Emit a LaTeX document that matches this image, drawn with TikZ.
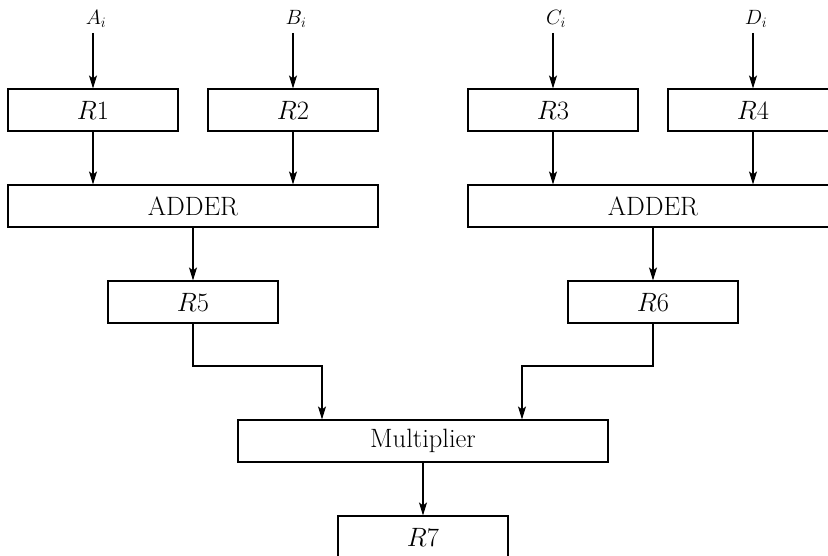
\RequirePackage{fix-cm}
\documentclass[tikz,border=0pt]{standalone}
\usetikzlibrary{arrows.meta,calc}
\begin{document}
\begin{tikzpicture}[x=1pt,y=-1pt,
  every node/.style={font=\fontsize{26.5}{30}\selectfont},
  reg/.style={draw,line width=1.1pt,minimum width=170pt,minimum height=42pt,inner sep=0pt},
  wide/.style={draw,line width=1.1pt,minimum width=370pt,minimum height=42pt,inner sep=0pt},
  lbl/.style={inner sep=0pt,scale=0.78},
  arr/.style={line width=1.1pt,-{Stealth[length=13pt,width=8pt,inset=3pt]}}]
\useasboundingbox (0,0) rectangle (828,556);
\clip (0,0) rectangle (828,556);
\fill[white] (0,0) rectangle (828,556);
% inputs
\node[lbl] (A) at (96,19) {$A_i$};
\node[lbl] (B) at (296,19) {$B_i$};
\node[lbl] (C) at (556,19) {$C_i$};
\node[lbl] (D) at (756,19) {$D_i$};
% registers
\node[reg] (R1) at (93,110) {$R1$};
\node[reg] (R2) at (293,110) {$R2$};
\node[reg] (R3) at (553,110) {$R3$};
\node[reg] (R4) at (753,110) {$R4$};
\node[wide] (AL) at (193,206) {ADDER};
\node[wide] (AR) at (653,206) {ADDER};
\node[reg] (R5) at (193,302) {$R5$};
\node[reg] (R6) at (653,302) {$R6$};
\node[wide] (M) at (423,441) {Multiplier};
\node[reg] (R7) at (423,537) {$R7$};
% connectors
\coordinate (ta) at (93,33);
\coordinate (tb) at (293,33);
\coordinate (tc) at (553,33);
\coordinate (td) at (753,33);
\draw[arr] (ta) -- (R1.north);
\draw[arr] (tb) -- (R2.north);
\draw[arr] (tc) -- (R3.north);
\draw[arr] (td) -- (R4.north);
\draw[arr] (R1.south) -- (R1.south |- AL.north);
\draw[arr] (R2.south) -- (R2.south |- AL.north);
\draw[arr] (R3.south) -- (R3.south |- AR.north);
\draw[arr] (R4.south) -- (R4.south |- AR.north);
\draw[arr] (AL.south) -- (R5.north);
\draw[arr] (AR.south) -- (R6.north);
\coordinate (ml) at (322,420);
\coordinate (mr) at (522,420);
\draw[arr] (R5.south) |- (322,366) -- (M.north -| ml);
\draw[arr] (R6.south) |- (522,366) -- (M.north -| mr);
\draw[arr] (M.south) -- (R7.north);
\end{tikzpicture}
\end{document}
